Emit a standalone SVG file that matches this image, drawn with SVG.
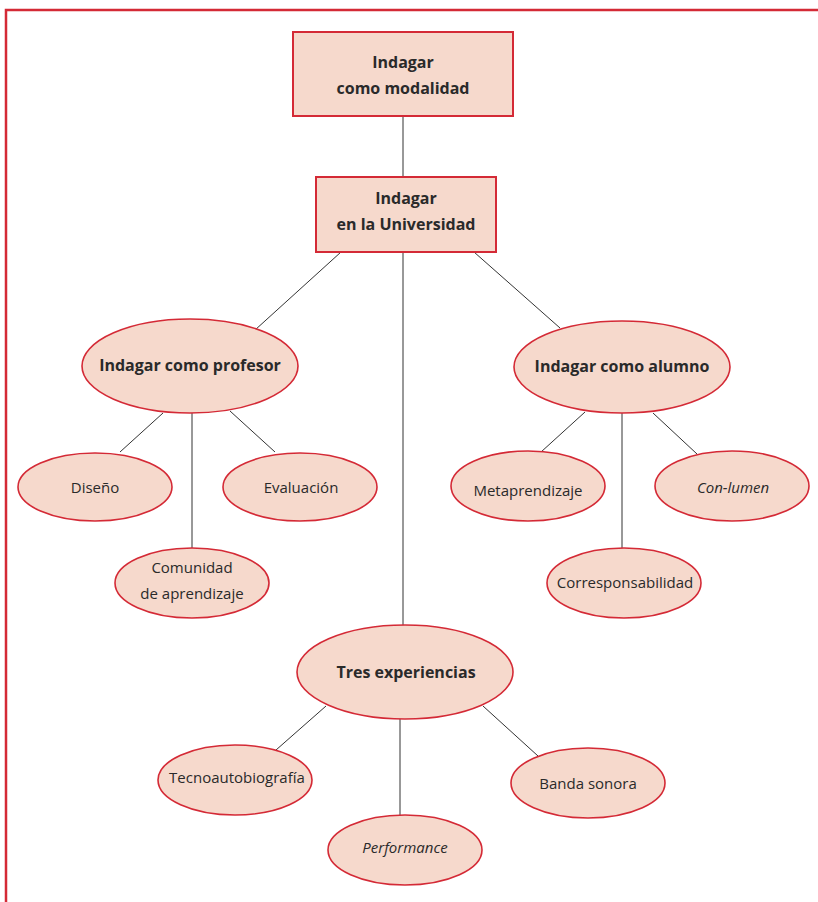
<svg xmlns="http://www.w3.org/2000/svg" width="818" height="902" viewBox="0 0 818 902">
<style>
.box{fill:#f6d9cc;stroke:#d42a36;stroke-width:2}
.el{fill:#f6d9cc;stroke:#d42a36;stroke-width:1.6}
.ln{stroke:#333;stroke-width:1;fill:none}
.b{font-family:"Open Sans",sans-serif;font-weight:bold;font-size:16px;fill:#2a2a2a;text-anchor:middle}
.r{font-family:"Open Sans",sans-serif;font-size:15px;fill:#2a2a2a;text-anchor:middle}
.i{font-style:italic}
</style>
<rect x="6" y="10" width="830" height="910" fill="none" stroke="#d42a36" stroke-width="2.5"/>
<g id="connectors">
<line class="ln" x1="403" y1="116" x2="403" y2="177"/>
<line class="ln" x1="341" y1="252" x2="255" y2="330"/>
<line class="ln" x1="403" y1="252" x2="403" y2="626"/>
<line class="ln" x1="474" y1="252" x2="560" y2="328"/>
<line class="ln" x1="163" y1="413" x2="120" y2="452"/>
<line class="ln" x1="192" y1="413" x2="192" y2="548"/>
<line class="ln" x1="230" y1="411" x2="275" y2="452"/>
<line class="ln" x1="585" y1="412" x2="541" y2="452"/>
<line class="ln" x1="622" y1="413" x2="622" y2="548"/>
<line class="ln" x1="653" y1="413" x2="697" y2="454"/>
<line class="ln" x1="326" y1="706" x2="276" y2="750"/>
<line class="ln" x1="400" y1="719" x2="400" y2="822"/>
<line class="ln" x1="483" y1="706" x2="538" y2="756"/>
</g>
<g id="n-modalidad"><rect class="box" x="293" y="32" width="220" height="84"/><text class="b" x="403" y="68">Indagar</text><text class="b" x="403" y="94">como modalidad</text></g>
<g id="n-universidad"><rect class="box" x="316" y="177" width="180" height="75"/><text class="b" x="406" y="204">Indagar</text><text class="b" x="406" y="230">en la Universidad</text></g>
<g id="n-profesor"><ellipse class="el" cx="190" cy="366" rx="108" ry="47"/><text class="b" x="190" y="371">Indagar como profesor</text></g>
<g id="n-alumno"><ellipse class="el" cx="622" cy="367" rx="108" ry="46"/><text class="b" x="622" y="372">Indagar como alumno</text></g>
<g id="n-diseno"><ellipse class="el" cx="95" cy="487" rx="77" ry="34"/><text class="r" x="95" y="493">Diseño</text></g>
<g id="n-evaluacion"><ellipse class="el" cx="300" cy="487" rx="77" ry="34"/><text class="r" x="301" y="493">Evaluación</text></g>
<g id="n-comunidad"><ellipse class="el" cx="192" cy="583" rx="77" ry="35"/><text class="r" x="192" y="573">Comunidad</text><text class="r" x="192" y="599">de aprendizaje</text></g>
<g id="n-meta"><ellipse class="el" cx="528" cy="486" rx="77" ry="35"/><text class="r" x="528" y="496">Metaprendizaje</text></g>
<g id="n-conlumen"><ellipse class="el" cx="732" cy="486" rx="77" ry="35"/><text class="r i" x="733" y="493">Con-lumen</text></g>
<g id="n-corresp"><ellipse class="el" cx="624" cy="583" rx="77" ry="35"/><text class="r" x="625" y="588">Corresponsabilidad</text></g>
<g id="n-tres"><ellipse class="el" cx="405" cy="672" rx="108" ry="47"/><text class="b" x="406" y="678">Tres experiencias</text></g>
<g id="n-tecno"><ellipse class="el" cx="235" cy="780" rx="77" ry="35"/><text class="r" x="237" y="783">Tecnoautobiografía</text></g>
<g id="n-performance"><ellipse class="el" cx="405" cy="850" rx="77" ry="35"/><text class="r i" x="405" y="853">Performance</text></g>
<g id="n-banda"><ellipse class="el" cx="588" cy="783" rx="77" ry="35"/><text class="r" x="588" y="789">Banda sonora</text></g>
</svg>
